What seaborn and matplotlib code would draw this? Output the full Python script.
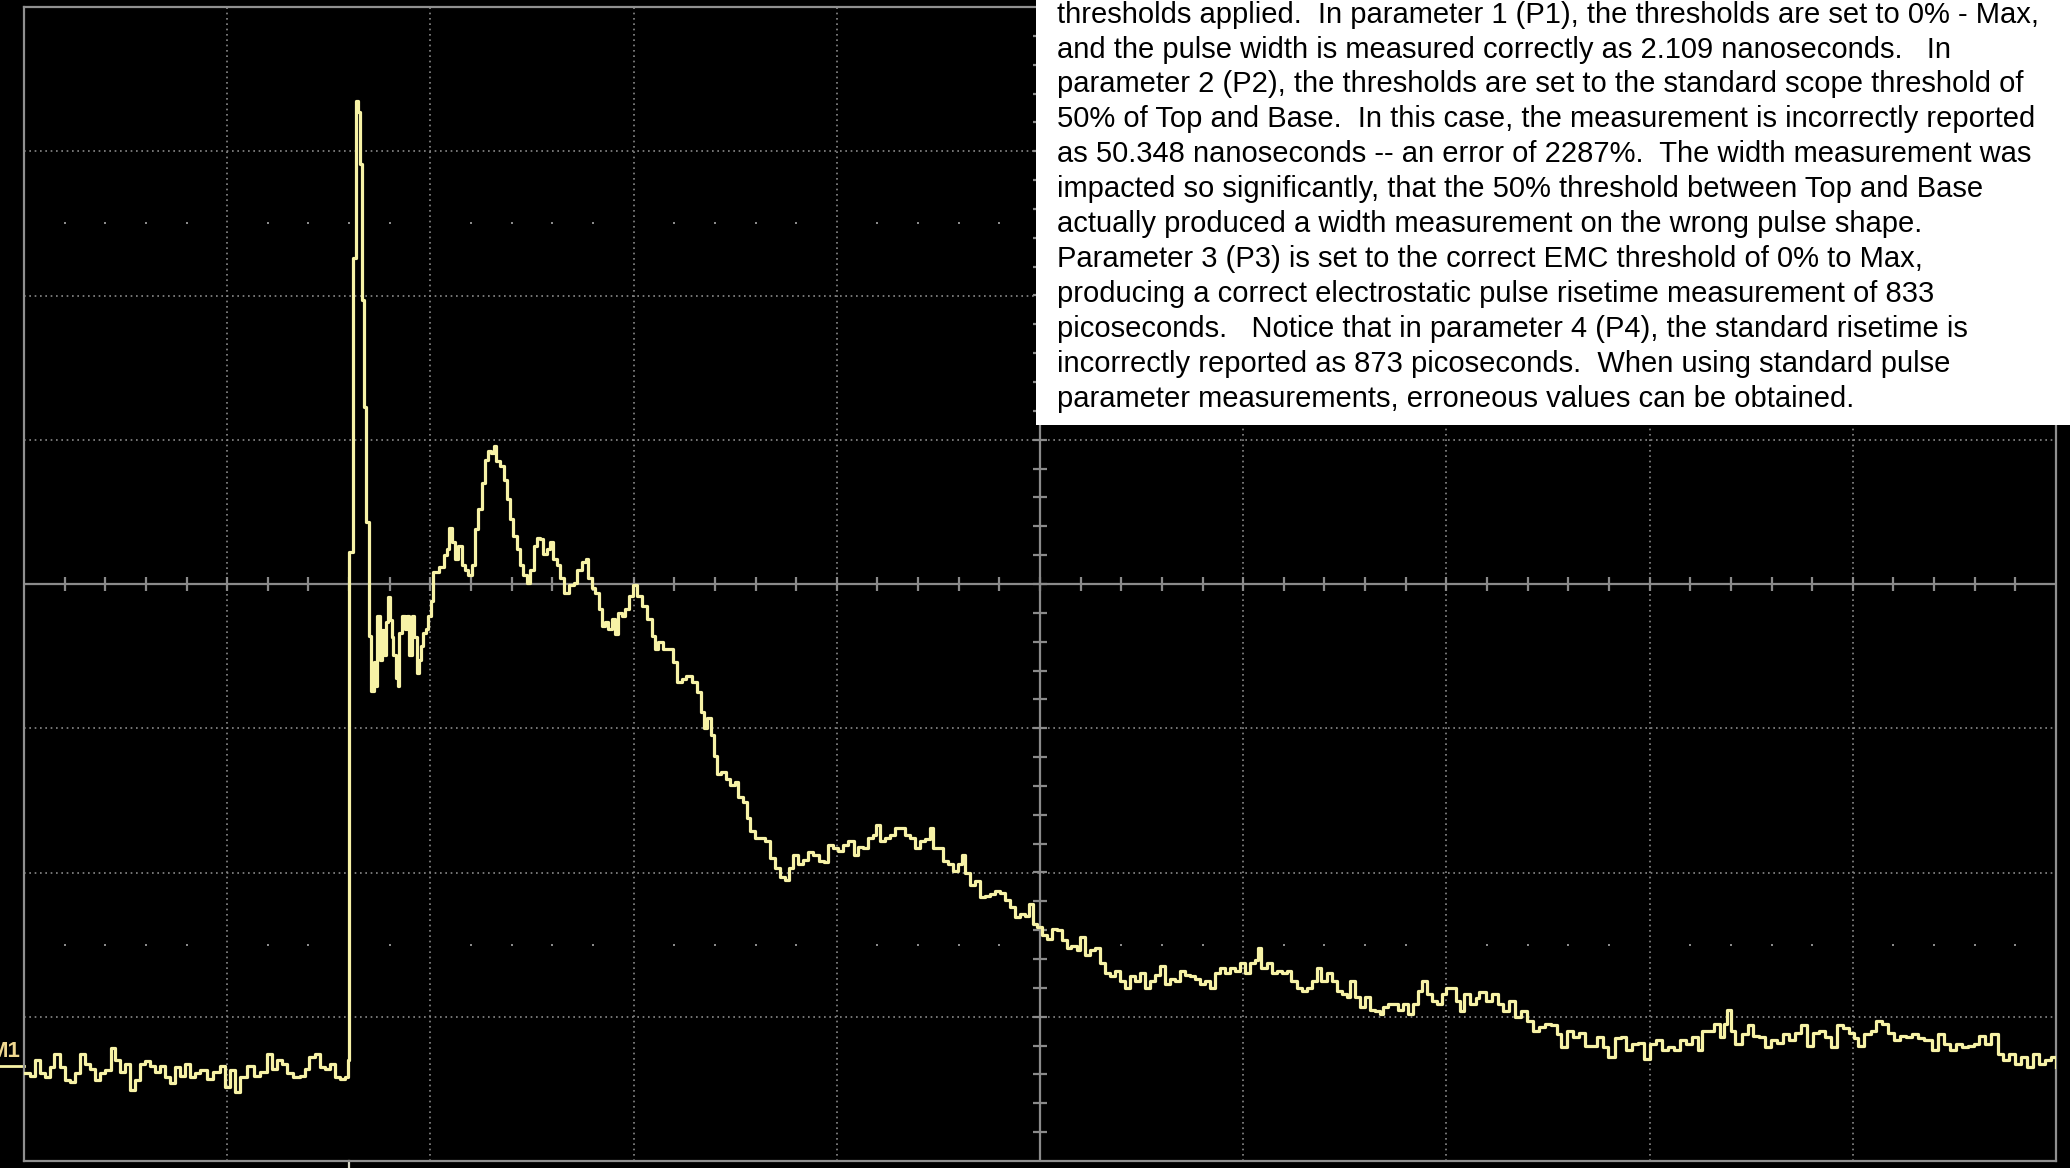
import matplotlib
matplotlib.use("Agg")
import matplotlib.pyplot as plt
from matplotlib.patches import Rectangle
import numpy as np
import pandas as pd
import seaborn as sns

# scope trace: time in ns (20 ns/div), level in divisions
baseline = [
    (0.1, -3.39), (0.6, -3.41), (1.1, -3.30), (1.6, -3.39), (2.1, -3.42), (2.6, -3.35),
    (3.0, -3.26), (3.5, -3.35), (4.0, -3.44), (4.5, -3.45), (5.0, -3.39), (5.5, -3.26),
    (6.0, -3.33), (6.5, -3.36), (7.0, -3.44), (7.5, -3.39), (8.0, -3.37), (8.6, -3.22),
    (9.0, -3.30), (9.4, -3.38), (9.9, -3.33), (10.4, -3.51), (10.9, -3.44), (11.4, -3.33),
    (11.9, -3.31), (12.4, -3.34), (12.9, -3.38), (13.4, -3.34), (13.9, -3.42), (14.4, -3.46),
    (14.9, -3.35), (15.4, -3.41), (15.8, -3.33), (16.3, -3.42), (16.8, -3.39), (17.3, -3.37),
    (18.0, -3.43), (18.6, -3.38), (19.3, -3.34), (19.8, -3.49), (20.3, -3.37), (20.8, -3.52),
    (21.3, -3.42), (21.9, -3.34), (22.6, -3.41), (23.2, -3.38), (23.9, -3.26), (24.4, -3.36),
    (24.9, -3.30), (25.4, -3.33), (25.9, -3.39), (26.5, -3.42), (27.2, -3.41), (27.7, -3.36),
    (28.1, -3.28), (28.6, -3.26), (29.1, -3.35), (29.6, -3.36), (30.1, -3.33), (30.6, -3.42),
    (31.1, -3.43), (31.6, -3.42), (31.9, -3.30),
]

spike = [
    (32.0, 0.22), (32.4, 2.26), (32.65, 3.35), (32.85, 3.27), (33.05, 2.91), (33.3, 1.97),
    (33.5, 1.23), (33.7, 0.43), (34.0, -0.36), (34.2, -0.74), (34.4, -0.54), (34.55, -0.71),
    (34.7, -0.22), (35.0, -0.53), (35.2, -0.32), (35.4, -0.49), (35.6, -0.26), (35.8, -0.09),
    (36.0, -0.25), (36.2, -0.37), (36.35, -0.49), (36.6, -0.65), (36.8, -0.71), (36.9, -0.34),
    (37.2, -0.22), (37.5, -0.31), (37.7, -0.22), (37.9, -0.49), (38.15, -0.22), (38.4, -0.37),
    (38.65, -0.62), (38.9, -0.53), (39.1, -0.43), (39.3, -0.34), (39.55, -0.31), (39.8, -0.22),
    (40.05, -0.12), (40.3, 0.08),
]

hump = [
    (40.8, 0.12), (41.3, 0.20), (41.6, 0.24), (41.8, 0.39), (42.1, 0.29), (42.4, 0.17),
    (42.75, 0.26), (43.1, 0.13), (43.4, 0.10), (43.7, 0.06), (44.05, 0.13), (44.4, 0.38),
    (44.7, 0.52), (45.05, 0.70), (45.4, 0.86), (45.7, 0.92), (46.0, 0.91), (46.25, 0.96),
    (46.5, 0.85), (46.85, 0.82), (47.2, 0.72), (47.5, 0.59), (47.85, 0.45), (48.15, 0.33),
    (48.5, 0.24), (48.8, 0.13), (49.15, 0.06), (49.5, 0.01), (49.8, 0.10), (50.15, 0.26),
    (50.45, 0.32), (50.8, 0.31), (51.1, 0.21), (51.45, 0.24), (51.8, 0.29), (52.1, 0.17),
    (52.45, 0.13), (52.75, 0.04), (53.15, -0.06), (53.6, -0.01), (54.1, 0.01), (54.4, 0.10),
    (54.9, 0.15), (55.3, 0.17), (55.55, 0.04), (55.9, -0.03), (56.2, -0.06), (56.55, -0.17),
    (56.85, -0.29), (57.2, -0.26), (57.5, -0.31), (57.85, -0.24), (58.15, -0.35), (58.5, -0.20),
    (58.85, -0.22), (59.15, -0.17), (59.5, -0.08), (59.9, -0.01),
]

decay = [
    (60.3, -0.08), (60.8, -0.15), (61.3, -0.24), (61.8, -0.36), (62.1, -0.45), (62.45, -0.40),
    (62.9, -0.45), (63.4, -0.45), (63.9, -0.54), (64.25, -0.68), (64.75, -0.66), (65.2, -0.64),
    (65.7, -0.68), (66.2, -0.75), (66.6, -0.89), (66.95, -1.00), (67.25, -0.93), (67.6, -1.05),
    (67.9, -1.19), (68.25, -1.32), (68.65, -1.30), (69.1, -1.35), (69.5, -1.39), (70.0, -1.37),
    (70.3, -1.48), (70.8, -1.51), (71.15, -1.62), (71.45, -1.71), (71.95, -1.76), (72.45, -1.76),
    (72.95, -1.78), (73.45, -1.90), (73.9, -1.97), (74.4, -2.03), (74.9, -2.05), (75.25, -1.97),
    (75.7, -1.88), (76.2, -1.94), (76.7, -1.91), (77.2, -1.86), (77.7, -1.88), (78.2, -1.92),
    (78.7, -1.93), (79.15, -1.81), (79.65, -1.83), (80.15, -1.85), (80.65, -1.81), (81.15, -1.78),
    (81.65, -1.88), (82.1, -1.82), (82.6, -1.83), (83.1, -1.76), (83.6, -1.74), (83.9, -1.67),
    (84.25, -1.78), (84.75, -1.76), (85.25, -1.74), (85.75, -1.69), (86.2, -1.69), (86.7, -1.74),
    (87.2, -1.76), (87.7, -1.83), (88.2, -1.78), (88.7, -1.77), (89.15, -1.69), (89.5, -1.83),
    (90.0, -1.83), (90.5, -1.92), (90.95, -1.94), (91.45, -1.99), (91.95, -1.94), (92.3, -1.88),
    (92.6, -2.00), (93.1, -2.09), (93.6, -2.06), (94.1, -2.17), (94.6, -2.16), (95.05, -2.15),
    (95.55, -2.13), (96.05, -2.14), (96.55, -2.19), (97.05, -2.24), (97.55, -2.31), (98.0, -2.29),
    (98.5, -2.30), (98.95, -2.22), (99.35, -2.36), (99.7, -2.38),
]

tail_mid = [
    (100.15, -2.43), (100.65, -2.46), (101.15, -2.39), (101.65, -2.40), (102.15, -2.47),
    (102.65, -2.52), (103.1, -2.51), (103.6, -2.54), (103.95, -2.45), (104.45, -2.57),
    (104.95, -2.54), (105.4, -2.52), (105.9, -2.63), (106.4, -2.70), (106.9, -2.72),
    (107.4, -2.68), (107.9, -2.75), (108.35, -2.80), (108.85, -2.72), (109.35, -2.75),
    (109.85, -2.70), (110.35, -2.80), (110.85, -2.75), (111.3, -2.71), (111.8, -2.65),
    (112.3, -2.77), (112.8, -2.74), (113.3, -2.75), (113.8, -2.68), (114.25, -2.71),
    (114.75, -2.72), (115.25, -2.74), (115.75, -2.77), (116.25, -2.75), (116.75, -2.80),
    (117.2, -2.70), (117.7, -2.66), (118.2, -2.70), (118.7, -2.66), (119.2, -2.68),
    (119.7, -2.63), (120.2, -2.70), (120.65, -2.63), (121.15, -2.61), (121.5, -2.52),
    (121.8, -2.66), (122.3, -2.63), (122.8, -2.70), (123.3, -2.68), (123.8, -2.70),
    (124.3, -2.68), (124.75, -2.75), (125.25, -2.80), (125.75, -2.82), (126.25, -2.80),
    (126.75, -2.75), (127.25, -2.66), (127.7, -2.75), (128.2, -2.70), (128.7, -2.75),
    (129.2, -2.82), (129.7, -2.84), (130.2, -2.86), (130.55, -2.75), (131.0, -2.86),
    (131.5, -2.93), (132.0, -2.86), (132.5, -2.95), (132.95, -2.96), (133.45, -2.98),
    (133.8, -2.93), (134.3, -2.91), (134.75, -2.91), (135.25, -2.95), (135.75, -2.91),
    (136.25, -2.98), (136.75, -2.91), (137.25, -2.82), (137.55, -2.75), (138.05, -2.84),
    (138.55, -2.89), (139.05, -2.91), (139.55, -2.84),
]

tail_end = [
    (140.0, -2.80), (140.35, -2.80), (140.9, -2.89), (141.3, -2.96), (141.7, -2.84),
    (142.3, -2.91), (142.9, -2.87), (143.25, -2.83), (143.85, -2.89), (144.45, -2.84),
    (145.05, -2.91), (145.6, -2.96), (146.2, -2.89), (146.8, -3.00), (147.35, -2.96),
    (147.95, -3.03), (148.55, -3.10), (149.15, -3.07), (149.7, -3.05), (150.3, -3.06),
    (150.9, -3.12), (151.3, -3.21), (151.85, -3.10), (152.45, -3.14), (153.05, -3.11),
    (153.6, -3.20), (154.2, -3.20), (154.8, -3.14), (155.4, -3.21), (155.95, -3.28),
    (156.55, -3.15), (157.15, -3.14), (157.7, -3.23), (158.3, -3.19), (158.9, -3.18),
    (159.45, -3.29), (160.05, -3.19), (160.65, -3.16), (161.25, -3.23), (161.8, -3.21),
    (162.4, -3.23), (163.0, -3.16), (163.55, -3.19), (164.15, -3.14), (164.75, -3.23),
    (165.15, -3.10), (165.7, -3.10), (166.3, -3.05), (166.9, -3.14), (167.3, -3.05),
    (167.65, -2.95), (168.05, -3.10), (168.45, -3.19), (169.05, -3.12), (169.65, -3.06),
    (170.2, -3.13), (170.8, -3.14), (171.4, -3.21), (171.95, -3.16), (172.55, -3.18),
    (173.15, -3.12), (173.75, -3.16), (174.3, -3.11), (174.9, -3.06), (175.5, -3.20),
    (176.05, -3.11), (176.65, -3.10), (177.25, -3.14), (177.85, -3.21), (178.4, -3.06),
    (179.0, -3.08), (179.6, -3.11), (180.15, -3.15), (180.55, -3.20), (181.15, -3.12),
    (181.75, -3.10), (182.3, -3.03), (182.9, -3.05), (183.5, -3.11), (184.05, -3.16),
    (184.65, -3.13), (185.25, -3.14), (185.85, -3.12), (186.4, -3.15), (187.0, -3.16),
    (187.8, -3.23), (188.35, -3.12), (188.95, -3.19), (189.55, -3.23), (190.15, -3.19),
    (190.7, -3.21), (191.3, -3.20), (191.9, -3.19), (192.45, -3.13), (193.05, -3.19),
    (193.65, -3.12), (194.25, -3.26), (194.8, -3.30), (195.4, -3.26), (196.0, -3.33),
    (196.55, -3.28), (197.15, -3.35), (197.75, -3.26), (198.35, -3.33), (198.9, -3.30),
    (199.5, -3.28), (200.0, -3.35),
]

TRIGGER_NS = 32.0
M1_LEVEL = -3.34

note_lines = [
    "thresholds applied.  In parameter 1 (P1), the thresholds are set to 0% - Max,",
    "and the pulse width is measured correctly as 2.109 nanoseconds.   In",
    "parameter 2 (P2), the thresholds are set to the standard scope threshold of",
    "50% of Top and Base.  In this case, the measurement is incorrectly reported",
    "as 50.348 nanoseconds -- an error of 2287%.  The width measurement was",
    "impacted so significantly, that the 50% threshold between Top and Base",
    "actually produced a width measurement on the wrong pulse shape.",
    "Parameter 3 (P3) is set to the correct EMC threshold of 0% to Max,",
    "producing a correct electrostatic pulse risetime measurement of 833",
    "picoseconds.   Notice that in parameter 4 (P4), the standard risetime is",
    "incorrectly reported as 873 picoseconds.  When using standard pulse",
    "parameter measurements, erroneous values can be obtained.",
]

trace = pd.DataFrame(baseline + spike + hump + decay + tail_mid + tail_end,
                     columns=["time_ns", "level_div"])

W, H = 2070, 1168
TRACE = "#f7f2a6"
GRID = "#8a8a8a"

fig = plt.figure(figsize=(W / 100, H / 100), dpi=100)
fig.patch.set_facecolor("black")
ax = fig.add_axes([24 / W, 7 / H, 2032 / W, 1154 / H])
ax.set_facecolor("black")
ax.set_xlim(0, 200)
ax.set_ylim(-4, 4)
ax.set_xticks([])
ax.set_yticks([])
for sp in ax.spines.values():
    sp.set_color("#909090")
    sp.set_linewidth(1.6)

# graticule: dotted divisions, solid centre axes with minor ticks
for t in np.arange(20, 200, 20):
    if t != 100:
        ax.axvline(t, color=GRID, lw=1.2, ls=(0, (1, 2.2)), zorder=1)
for v in np.arange(-3, 4, 1):
    if v != 0:
        ax.axhline(v, color=GRID, lw=1.2, ls=(0, (1, 2.2)), zorder=1)
ax.axvline(100, color=GRID, lw=1.6, zorder=1)
ax.axhline(0, color=GRID, lw=1.6, zorder=1)
minor_t = np.arange(4, 200, 4)
minor_v = np.arange(-3.8, 4, 0.2)
ax.vlines(minor_t, -0.05, 0.05, color=GRID, lw=1.6, zorder=1)
ax.hlines(minor_v, 99.3, 100.7, color=GRID, lw=1.6, zorder=1)
dots_t = [t for t in minor_t if t % 20 != 0]
for v in (-2.5, 2.5):
    ax.scatter(dots_t, [v] * len(dots_t), s=3, color=GRID, marker="s",
               linewidths=0, zorder=1)

sns.lineplot(data=trace, x="time_ns", y="level_div", ax=ax, color=TRACE,
             linewidth=2.3, drawstyle="steps-post", estimator=None, sort=False,
             zorder=3)
ax.set_xlabel("")
ax.set_ylabel("")

# channel marker and trigger position
ax.plot([-2.4, 0], [M1_LEVEL, M1_LEVEL], color=TRACE, lw=2.0, clip_on=False)
fig.text(20 / W, 1 - 1057 / H, "M1", ha="right", va="baseline", fontsize=16,
         color="#f0d890", family="Liberation Sans", fontweight="bold")
ax.plot([TRIGGER_NS, TRIGGER_NS], [-4, -4.06], color="#d8d8c8", lw=1.6,
        clip_on=False)

# white note box covering the upper right of the screen
fig.add_artist(Rectangle((1036 / W, 1 - 425 / H), 1 - 1036 / W, 425 / H,
                         transform=fig.transFigure, facecolor="white",
                         edgecolor="none", zorder=5))
for i, line in enumerate(note_lines):
    base_px = 22.7 + i * 34.9
    fig.text(1057 / W, 1 - base_px / H, line, ha="left", va="baseline",
             fontsize=21, color="black", family="Liberation Sans", zorder=6)

fig.savefig("out.png", dpi=100, facecolor=fig.get_facecolor())
plt.close(fig)
